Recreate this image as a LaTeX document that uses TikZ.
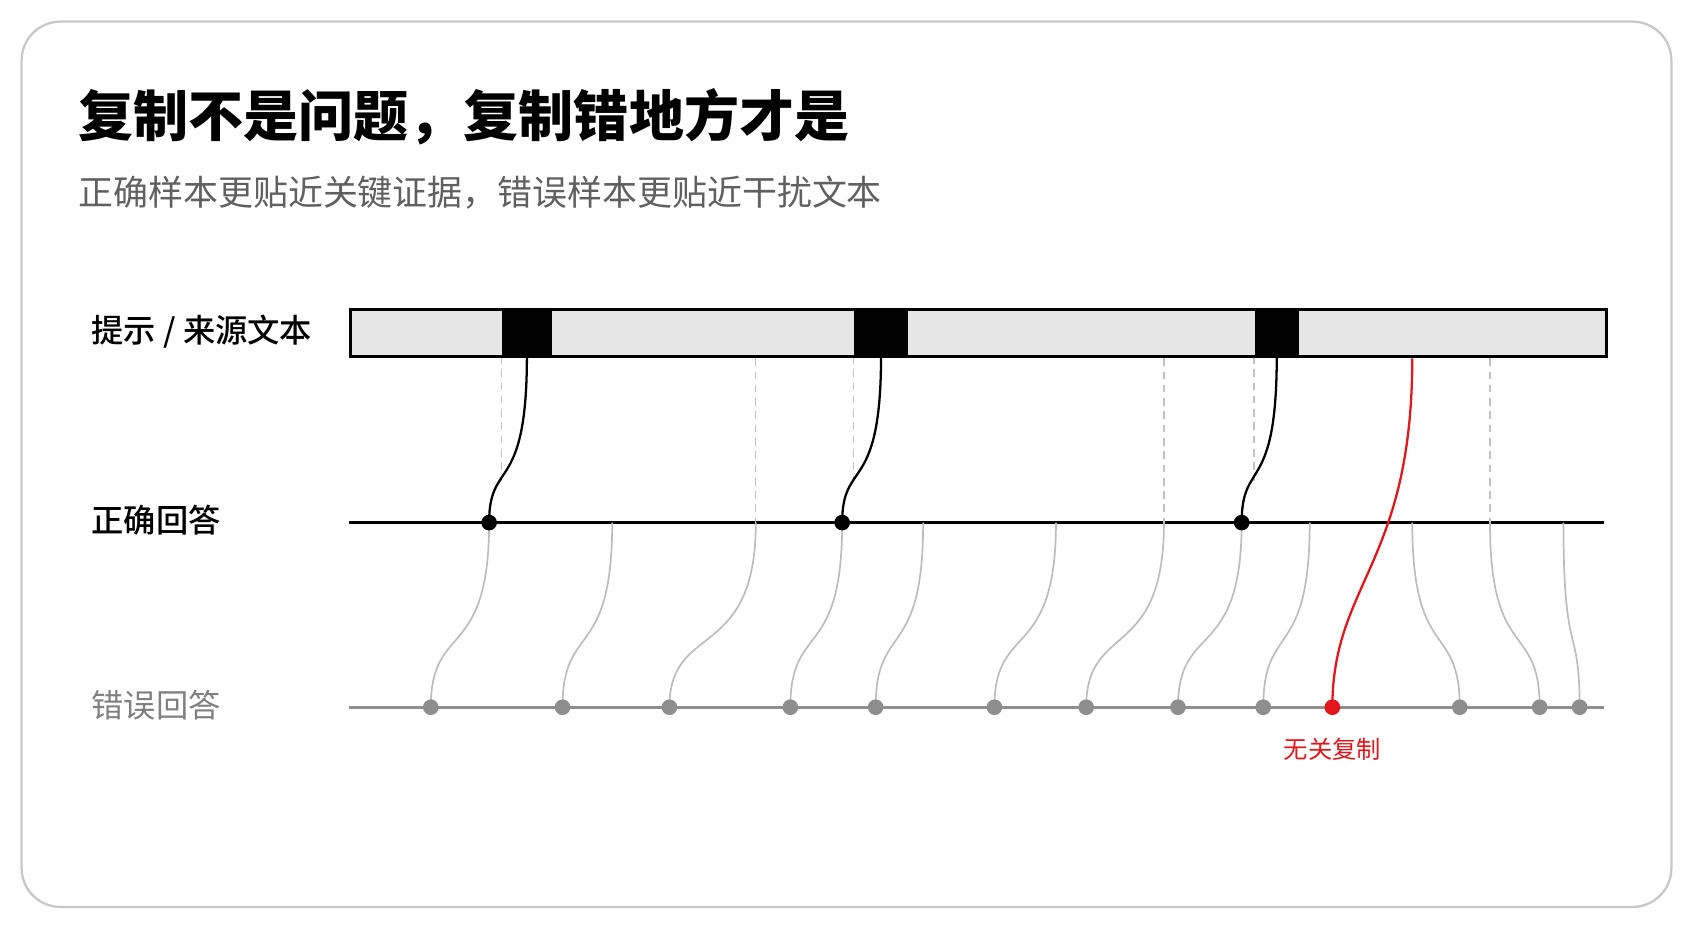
\documentclass[tikz,border=0pt]{standalone}
\usepackage{fontspec}
\setmainfont{Noto Sans CJK SC}
\newfontfamily\medfont{Noto Sans CJK SC Medium}
\usetikzlibrary{positioning}
\pgfdeclarelayer{bg}
\pgfsetlayers{bg,main}

\definecolor{barfill}{HTML}{E6E6E6}
\definecolor{wronggray}{HTML}{8E8E8E}
\definecolor{linkgray}{HTML}{BDBDBD}
\definecolor{guidegray}{HTML}{C2C2C2}
\definecolor{copyred}{HTML}{E3161C}
\definecolor{subgray}{HTML}{606060}
\definecolor{framegray}{HTML}{C8C8C8}

\begin{document}
\begin{tikzpicture}[x=0.01cm, y=-0.01cm,
    dot/.style = {circle, inner sep=0pt, minimum size=0.145cm},
    wdot/.style = {dot, fill=wronggray},
    block/.style = {fill=black, inner sep=0pt, minimum height=0.44cm},
    lab/.style = {anchor=west, inner sep=0pt, font=\fontsize{8.5pt}{10pt}\selectfont},
    link/.style = {linkgray, line width=0.45pt},
    guide/.style = {guidegray, line width=0.35pt, dash pattern=on 2pt off 1.5pt}]
\useasboundingbox (0,0) rectangle (1568,860);

% title
\node[anchor=west, inner sep=0pt, font=\fontsize{14.5pt}{17pt}\selectfont\bfseries] (title) at (72,108) {复制不是问题，复制错地方才是};
\node[anchor=west, inner sep=0pt, text=subgray, font=\fontsize{9.2pt}{11pt}\selectfont] (sub) at (72,178) {正确样本更贴近关键证据，错误样本更贴近干扰文本};

% row labels
\node[lab, font=\fontsize{8.5pt}{10pt}\selectfont\medfont] (lsrc) at (84,307) {提示 / 来源文本};
\node[lab, font=\fontsize{8.5pt}{10pt}\selectfont\medfont] (lok) at (84,482) {正确回答};
\node[lab, text=wronggray!90!black] (lbad) at (84,653) {错误回答};

% source bar and copied spans
\node[draw, fill=barfill, line width=0.8pt, inner sep=0pt, minimum width=11.63cm, minimum height=0.44cm, anchor=north west] (src) at (323,285) {};
\foreach \n/\a/\b in {1/465/511, 2/791/841, 3/1162/1203}
{
    \node[block, minimum width={(\b-\a)*0.01cm}] (blk\n) at ({(\a+\b)/2},307) {};
}

% answer lines
\coordinate (okl) at (323,484);
\coordinate (okr) at (1486,484);
\coordinate (badl) at (323,655);
\coordinate (badr) at (1486,655);

\foreach \n/\x in {1/453, 2/780, 3/1150}
    \node[dot, fill=black] (c\n) at (\x,484) {};
\foreach \n/\x in {1/567, 2/700, 3/855, 4/978, 5/1078, 6/1213, 7/1308, 8/1380, 9/1448}
    \coordinate (a\n) at (\x,484);

\foreach \n/\x in {1/399, 2/521, 3/620, 4/732, 5/811, 6/921, 7/1006, 8/1091, 9/1170, 10/1352, 11/1426, 12/1463}
    \node[wdot] (w\n) at (\x,655) {};
\node[dot, fill=copyred] (wred) at (1234,655) {};
\node[below=0.2cm of wred, inner sep=0pt, text=copyred, font=\fontsize{6.4pt}{8pt}\selectfont] (lred) {无关复制};

\begin{pgfonlayer}{bg}
\draw[framegray, line width=0.6pt, rounded corners=0.36cm] (20,20) rectangle (1548,840);

\draw[line width=0.9pt] (okl) -- (okr);
\draw[wronggray, line width=0.8pt] (badl) -- (badr);

% guides under the bar
\foreach \n in {1,2,3}
    \draw[guide] (blk\n.south west) -- +(0,116);
\foreach \n in {2,5,8}
    \draw[guide] (src.south -| a\n) -- (a\n);

% copies into the correct answer
\foreach \n in {1,2,3}
    \draw[line width=0.6pt] (blk\n.south) .. controls +(0,130) and +(0,-60) .. (c\n.center);

% copies into the wrong answer
\foreach \s/\t in {c1/w1, a1/w2, a2/w3, c2/w4, a3/w5, a4/w6, a5/w7, c3/w8, a6/w9, a7/w10, a8/w11, a9/w12}
    \draw[link] (\s.center) .. controls +(0,130) and +(0,-80) .. (\t.center);

\draw[copyred, line width=0.6pt] (src.south -| a7) .. controls +(0,190) and +(0,-115) .. (wred.center); %irrelevant copy
\end{pgfonlayer}
\end{tikzpicture}
\end{document}
